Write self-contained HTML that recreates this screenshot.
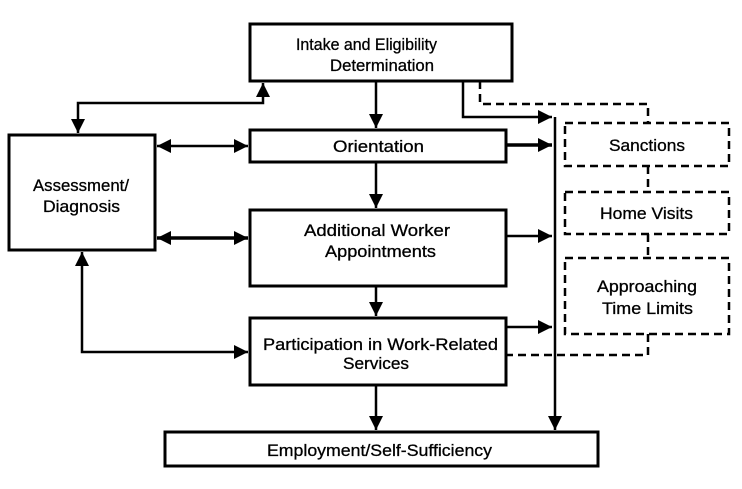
<!DOCTYPE html>
<html><head><style>
html,body{margin:0;padding:0;background:#fff;}
svg text{font-family:"Liberation Sans",sans-serif;font-size:17px;fill:#000;stroke:#000;stroke-width:0.3;}
</style></head><body>
<svg width="742" height="484" viewBox="0 0 742 484" xmlns="http://www.w3.org/2000/svg">
<defs>
<marker id="a" markerWidth="14" markerHeight="14" refX="14" refY="7" orient="auto-start-reverse" markerUnits="userSpaceOnUse"><path d="M0,0 L14,7 L0,14 Z" fill="#000"/></marker>
</defs>
<g fill="none" stroke="#000" stroke-width="3">
<rect x="250" y="24" width="262" height="57"/>
<rect x="250" y="130" width="256" height="32"/>
<rect x="9" y="135" width="146" height="115"/>
<rect x="250" y="210" width="256" height="76"/>
<rect x="250" y="318" width="256" height="67"/>
<rect x="165" y="432" width="433" height="34"/>
</g>
<g fill="none" stroke="#000" stroke-width="2.5" stroke-dasharray="8,5">
<rect x="565" y="123" width="164" height="43"/>
<rect x="565" y="192" width="164" height="42"/>
<rect x="565" y="258" width="164" height="76"/>
<polyline points="480,81 480,104 648,104 648,123"/>
<line x1="648" y1="166" x2="648" y2="192"/>
<line x1="648" y1="234" x2="648" y2="258"/>
<polyline points="648,334 648,355 506,355"/>
</g>
<g fill="none" stroke="#000" stroke-width="2.5">
<line x1="376" y1="81" x2="376" y2="128" marker-end="url(#a)"/>
<line x1="376" y1="162" x2="376" y2="208" marker-end="url(#a)"/>
<line x1="376" y1="286" x2="376" y2="316" marker-end="url(#a)"/>
<line x1="376" y1="385" x2="376" y2="430" marker-end="url(#a)"/>
<polyline points="463,81 463,117 552,117" marker-end="url(#a)"/>
<line x1="555" y1="117" x2="555" y2="430" marker-end="url(#a)"/>
<line x1="506" y1="145" x2="552" y2="145" marker-end="url(#a)" stroke-width="3.5"/>
<line x1="506" y1="236" x2="552" y2="236" marker-end="url(#a)"/>
<line x1="506" y1="327" x2="552" y2="327" marker-end="url(#a)"/>
<polyline points="78,133 78,103 263,103 263,83" marker-start="url(#a)" marker-end="url(#a)"/>
<line x1="157" y1="146" x2="248" y2="146" marker-start="url(#a)" marker-end="url(#a)"/>
<line x1="157" y1="238" x2="248" y2="238" marker-start="url(#a)" marker-end="url(#a)" stroke-width="3.5"/>
<polyline points="82,252 82,352 248,352" marker-start="url(#a)" marker-end="url(#a)"/>
</g>
<g>
<text x="296" y="50" textLength="141" lengthAdjust="spacingAndGlyphs">Intake and Eligibility</text>
<text x="330" y="71" textLength="104" lengthAdjust="spacingAndGlyphs">Determination</text>
<text x="333" y="152" textLength="91" lengthAdjust="spacingAndGlyphs">Orientation</text>
<text x="33" y="191" textLength="96" lengthAdjust="spacingAndGlyphs">Assessment/</text>
<text x="43" y="212" textLength="77" lengthAdjust="spacingAndGlyphs">Diagnosis</text>
<text x="304" y="236" textLength="146" lengthAdjust="spacingAndGlyphs">Additional Worker</text>
<text x="325" y="257" textLength="111" lengthAdjust="spacingAndGlyphs">Appointments</text>
<text x="263" y="350" textLength="235" lengthAdjust="spacingAndGlyphs">Participation in Work-Related</text>
<text x="343" y="369" textLength="66" lengthAdjust="spacingAndGlyphs">Services</text>
<text x="267" y="456" textLength="225" lengthAdjust="spacingAndGlyphs">Employment/Self-Sufficiency</text>
<text x="609" y="151" textLength="76" lengthAdjust="spacingAndGlyphs">Sanctions</text>
<text x="600" y="219" textLength="93" lengthAdjust="spacingAndGlyphs">Home Visits</text>
<text x="597" y="292" textLength="100" lengthAdjust="spacingAndGlyphs">Approaching</text>
<text x="602" y="314" textLength="91" lengthAdjust="spacingAndGlyphs">Time Limits</text>
</g>
</svg>
</body></html>
